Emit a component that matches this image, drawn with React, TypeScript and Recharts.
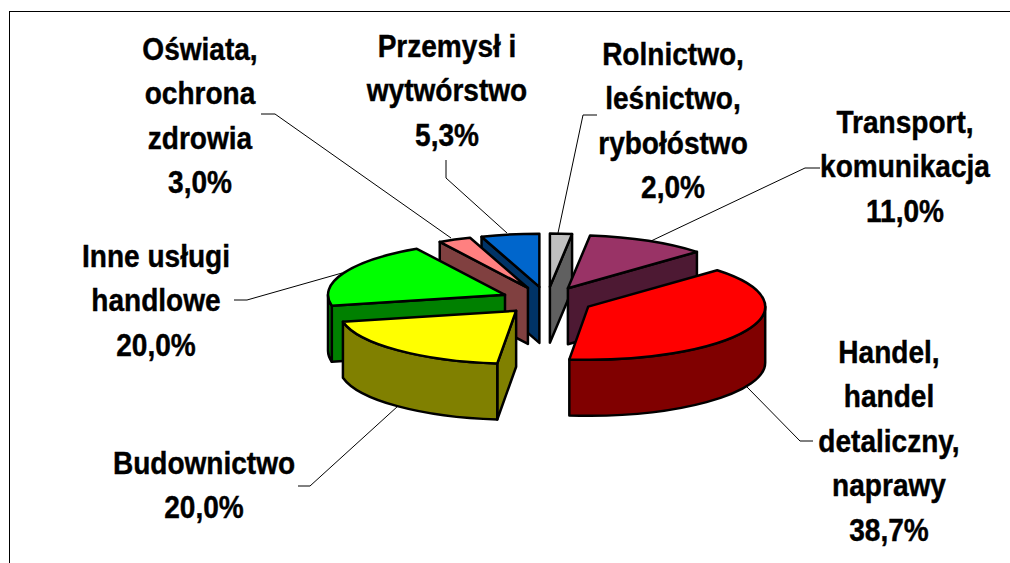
import React from "react";
import { PieChart, Pie } from "recharts";

const categories = [
  ["Rolnictwo,", "leśnictwo,", "rybołóstwo"],
  ["Transport,", "komunikacja"],
  ["Handel,", "handel", "detaliczny,", "naprawy"],
  ["Budownictwo"],
  ["Inne usługi", "handlowe"],
  ["Oświata,", "ochrona", "zdrowia"],
  ["Przemysł i", "wytwórstwo"],
];
const values = [2.0, 11.0, 38.7, 20.0, 20.0, 3.0, 5.3];
const topColors = ["#C0C0C0", "#993366", "#FF0000", "#FFFF00", "#00FF00", "#FF8080", "#0066CC"];
const wallColors = ["#606060", "#4D1933", "#800000", "#808000", "#008000", "#804040", "#003366"];

// where each label sits: centre x, first baseline
const labelX = [673, 905, 889, 204, 156, 200, 447];
const labelY = [65, 133, 363, 474, 267, 60, 57];
// leader lines, from the text to the slice
const leaders = [
  "597,115 583,115 558,233",
  "820,168 805,168 651,241",
  "813,441 800,441 747,387",
  "298,486 310,486 398,406",
  "234,300 247,300 342,273",
  "261,114 275,114 451,238",
  "446,160 446,178 507,233",
];

const tableData = categories.map((lines, i) => ({
  name: lines.join(" "),
  value: values[i],
  fill: topColors[i],
  wall: wallColors[i],
  idx: i,
}));
const reversedData = [...tableData].reverse();

const SQUASH = 0.3; // tilt of the pie
const EXPLODE = 0.26;
const DEPTH = 56;

function Slice3D(props: any, side: "left" | "right") {
  const { cx, cy, outerRadius, startAngle, endAngle, fill } = props;
  const wall = props.wall ?? props.payload?.wall;
  let a = 90 - startAngle;
  let b = 90 - endAngle;
  if (a > b) [a, b] = [b, a];
  if (a < 0) {
    a += 360;
    b += 360;
  }
  const mid = (a + b) / 2;
  if ((side === "left") !== mid > 180) return <g />;

  const rx = outerRadius;
  const ry = outerRadius * SQUASH;
  const rad = (d: number) => (d * Math.PI) / 180;
  const ax = cx + EXPLODE * rx * Math.sin(rad(mid));
  const ay = cy - EXPLODE * ry * Math.cos(rad(mid));
  const pt = (d: number, dz = 0): [number, number] => [
    ax + rx * Math.sin(rad(d)),
    ay - ry * Math.cos(rad(d)) + dz,
  ];
  const edge = { stroke: "#000", strokeWidth: 2.5, strokeLinejoin: "round" as const };
  const walls: React.ReactNode[] = [];

  // cut faces turned towards the viewer
  const cut = (d: number, key: string) => {
    const p = pt(d);
    const q = pt(d, DEPTH);
    walls.push(
      <path
        key={key}
        d={`M${ax},${ay} L${p} L${q} L${ax},${ay + DEPTH} Z`}
        fill={wall}
        {...edge}
      />
    );
  };
  if (Math.sin(rad(a)) < 0) cut(a, "start");
  if (Math.sin(rad(b)) > 0) cut(b, "end");

  // rim, only the front half of the ellipse shows
  const from = Math.max(a, 90);
  const to = Math.min(b, 270);
  if (from < to) {
    walls.push(
      <path
        key="rim"
        d={`M${pt(from)} A${rx},${ry} 0 0 1 ${pt(to)} L${pt(to, DEPTH)} A${rx},${ry} 0 0 0 ${pt(from, DEPTH)} Z`}
        fill={wall}
        {...edge}
      />
    );
  }

  return (
    <g>
      {walls}
      <path
        d={`M${ax},${ay} L${pt(a)} A${rx},${ry} 0 ${b - a > 180 ? 1 : 0} 1 ${pt(b)} Z`}
        fill={fill}
        {...edge}
      />
    </g>
  );
}

function SliceLabel(props: any) {
  const i = props.payload?.idx ?? props.idx ?? props.index;
  const lines = [...categories[i], `${values[i].toFixed(1).replace(".", ",")}%`];
  return (
    <g>
      <polyline points={leaders[i]} fill="none" stroke="#000" strokeWidth={1} />
      {/* the original type is narrow and tall, so squeeze it sideways */}
      <g transform={`translate(${labelX[i]},0) scale(0.905,1)`}>
        <text
          x={0}
          y={labelY[i]}
          textAnchor="middle"
          fontFamily="'Liberation Sans', Arial, sans-serif"
          fontWeight={700}
          fontSize={31}
          fill="#000"
          stroke="#000"
          strokeWidth={0.4}
        >
          {lines.map((line, n) => (
            <tspan key={n} x={0} y={labelY[i] + n * 44.5}>
              {line}
            </tspan>
          ))}
        </text>
      </g>
    </g>
  );
}

export default function App() {
  return (
    <div style={{ position: "absolute", left: 0, top: 0, width: 1010, height: 563, background: "#fff", overflow: "hidden" }}>
      <div
        style={{
          position: "absolute",
          left: 9,
          top: 11,
          width: 1010,
          height: 563,
          borderTop: "1.5px solid #000",
          borderLeft: "1.5px solid #000",
        }}
      />
      <div style={{ position: "absolute", left: 0, top: 0 }}>
        <PieChart width={1010} height={563} margin={{ top: 0, right: 0, bottom: 0, left: 0 }}>
          <Pie
            data={tableData}
            dataKey="value"
            nameKey="name"
            cx={547}
            cy={300.5}
            outerRadius={177}
            startAngle={90}
            endAngle={-270}
            isAnimationActive={false}
            label={SliceLabel}
            labelLine={false}
            shape={(p: any) => Slice3D(p, "right")}
          />
          <Pie
            data={reversedData}
            dataKey="value"
            nameKey="name"
            cx={547}
            cy={300.5}
            outerRadius={177}
            startAngle={90}
            endAngle={450}
            isAnimationActive={false}
            label={false}
            labelLine={false}
            shape={(p: any) => Slice3D(p, "left")}
          />
        </PieChart>
      </div>
    </div>
  );
}
